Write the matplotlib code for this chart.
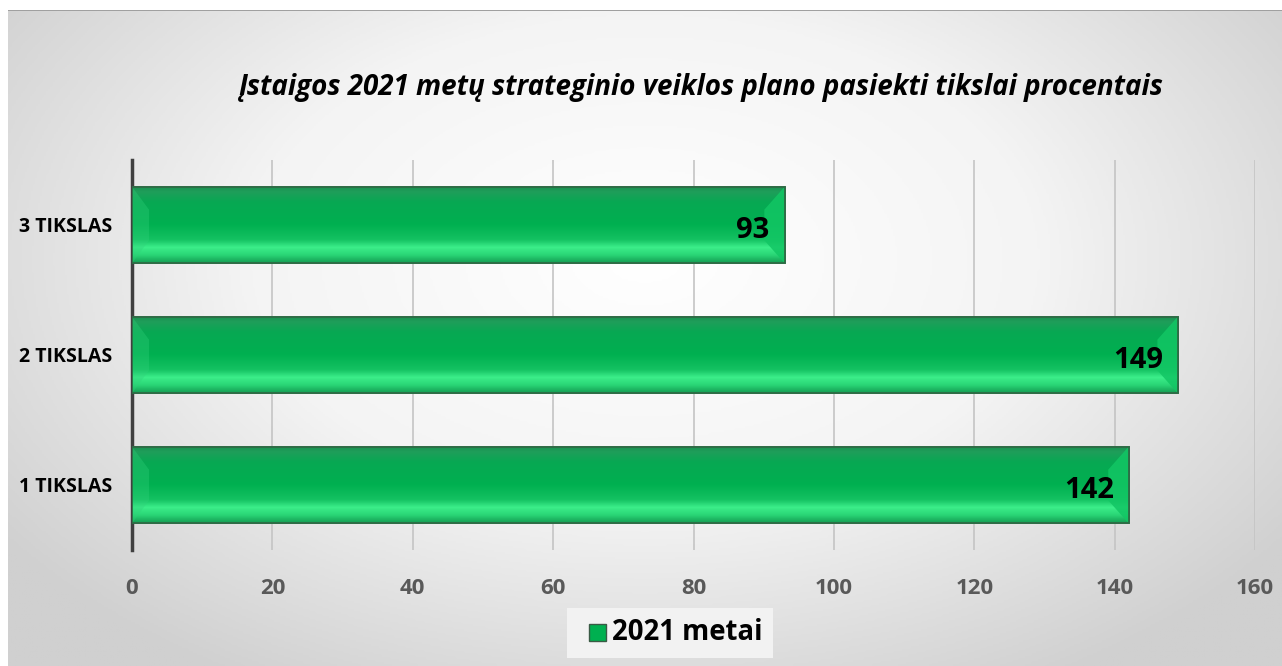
import numpy as np
import matplotlib
matplotlib.use("Agg")
import matplotlib.pyplot as plt
from matplotlib.colors import LinearSegmentedColormap
from matplotlib.patches import Polygon, Rectangle
import matplotlib.transforms as mtransforms

categories = ["1 TIKSLAS", "2 TIKSLAS", "3 TIKSLAS"]
values = [142, 149, 93]
series_name = "2021 metai"
title = "Įstaigos 2021 metų strateginio veiklos plano pasiekti tikslai procentais"
xticks = [0, 20, 40, 60, 80, 100, 120, 140, 160]

W, H = 1282, 666
fig = plt.figure(figsize=(W / 100, H / 100), dpi=100)
fig.patch.set_facecolor("white")

# background radial gradient panel
bg = fig.add_axes([8 / W, 0, 1 - 8 / W, 1 - 10 / H], zorder=-10)
yy, xx = np.mgrid[0:1:300j, 0:1:600j]
r = np.sqrt(((xx - 0.5) / 0.62) ** 2 + ((yy - 0.62) / 0.75) ** 2)
bgcmap = LinearSegmentedColormap.from_list("bg", ["#ffffff", "#f4f4f4", "#d0d0d0"])
bg.imshow(np.clip(r, 0, 1), cmap=bgcmap, aspect="auto", extent=[0, 1, 0, 1], origin="lower", vmin=0, vmax=1)
bg.set_axis_off()
fig.add_artist(Rectangle((8 / W, 1 - 11 / H), 1, 1.5 / H, transform=fig.transFigure,
                         facecolor="#a0a0a0", edgecolor="none"))

ax = fig.add_axes([132 / W, 1 - 550 / H, (1255 - 132) / W, (550 - 160) / H])
ax.set_facecolor("none")
ypos = np.arange(len(categories))
bar_h = 0.59
bars = ax.barh(ypos, values, height=bar_h, color="#00b050", edgecolor="#2e6b45", linewidth=1.2, zorder=3)
ax.set_xlim(0, 160)
ax.set_ylim(-0.5, len(categories) - 0.5)

grad_cmap = LinearSegmentedColormap.from_list(
    "g", [(0.0, "#1a8f50"), (0.07, "#1f9e5a"), (0.2, "#08a853"), (0.5, "#00b050"),
          (0.7, "#14c262"), (0.8, "#3cee8a"), (0.9, "#2ad676"), (1.0, "#15a055")])
gimg = np.linspace(0, 1, 100).reshape(-1, 1)
for b in bars:
    x0, y0 = b.get_x(), b.get_y()
    w, h = b.get_width(), b.get_height()
    im = ax.imshow(gimg, cmap=grad_cmap, aspect="auto", extent=[x0, x0 + w, y0, y0 + h],
                   origin="upper", zorder=3.5, vmin=0, vmax=1)
    im.set_clip_path(b)
    bev_px = 17
    dx = bev_px / ((1255 - 132) / 160)
    dy = h * 0.3
    left = Polygon([[x0, y0], [x0 + dx, y0 + dy], [x0 + dx, y0 + h - dy], [x0, y0 + h]],
                   closed=True, facecolor="#30d07a", alpha=0.35, edgecolor="none", zorder=3.6)
    right = Polygon([[x0 + w, y0], [x0 + w - dx * 1.2, y0 + dy], [x0 + w - dx * 1.2, y0 + h - dy], [x0 + w, y0 + h]],
                    closed=True, facecolor="#12c664", alpha=0.85, edgecolor="none", zorder=3.6)
    ax.add_patch(left)
    ax.add_patch(right)
    edge = Rectangle((x0, y0), w, h, facecolor="none", edgecolor="#2e6b45", linewidth=1.3, zorder=3.8)
    ax.add_patch(edge)
    off = mtransforms.offset_copy(ax.transData, fig=fig, x=-15, y=-5, units="dots")
    ax.text(x0 + w, y0 + h / 2, f"{int(w)}", transform=off, ha="right", va="center",
            fontsize=21, fontweight="bold", color="black", zorder=5, family="Open Sans")

ax.set_xticks(xticks)
ax.set_xticklabels([str(t) for t in xticks])
ax.set_yticks(ypos)
ax.set_yticklabels(categories)
ax.grid(axis="x", color="#c4c4c4", linewidth=1.2, zorder=0)
for s in ["top", "right", "bottom"]:
    ax.spines[s].set_visible(False)
ax.spines["left"].set_color("#404040")
ax.spines["left"].set_linewidth(2.5)
ax.tick_params(axis="x", length=0, pad=20, labelsize=16, labelcolor="#595959")
ax.tick_params(axis="y", length=0, pad=14, labelsize=14, labelcolor="black")
for lab in ax.get_xticklabels() + ax.get_yticklabels():
    lab.set_fontweight("bold")
    lab.set_family("Open Sans")

fig.text(701 / W, 1 - 88 / H, title, ha="center", va="center", fontsize=20.0,
         fontweight="bold", style="italic", family="Open Sans", color="black")

# legend
fig.add_artist(Rectangle((567 / W, 1 - 658 / H), 206 / W, 50 / H, transform=fig.transFigure,
                         facecolor="#f2f2f2", edgecolor="none", zorder=1))
fig.add_artist(Rectangle((589 / W, 1 - 641 / H), 17 / W, 17 / H, transform=fig.transFigure,
                         facecolor="#00b050", edgecolor="#3a5a45", linewidth=1, zorder=2))
fig.text(612 / W, 1 - 633 / H, series_name, ha="left", va="center", fontsize=19.8,
         fontweight="bold", family="Open Sans", color="black", zorder=3)

fig.savefig("out.png", dpi=100)
